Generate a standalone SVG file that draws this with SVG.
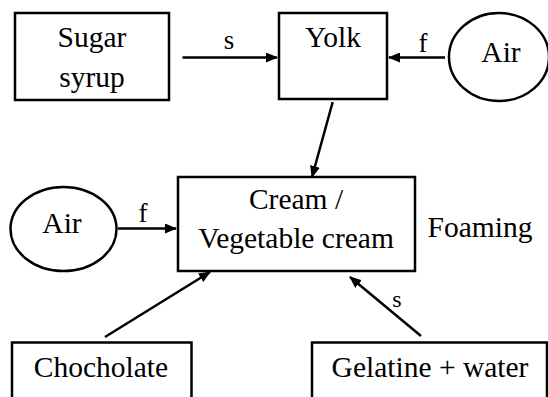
<svg xmlns="http://www.w3.org/2000/svg" width="548" height="397" viewBox="0 0 548 397" font-family="'Liberation Serif', 'DejaVu Serif', serif">
<style>
.box{fill:#fff;stroke:#000;stroke-width:2.5}
.t{font-family:'Liberation Serif','DejaVu Serif',serif;font-size:29.5px;fill:#000;text-anchor:middle}
.l{font-family:'Liberation Serif','DejaVu Serif',serif;font-size:27px;fill:#000;text-anchor:middle}
.c{stroke:#000;stroke-width:2.5;fill:none;marker-end:url(#ah)}
</style>
<defs>
<marker id="ah" viewBox="0 0 12 10" refX="11" refY="5" markerWidth="12" markerHeight="10" markerUnits="userSpaceOnUse" orient="auto">
<path d="M0,0 L12,5 L0,10 Z" fill="#000"/>
</marker>
</defs>
<rect width="548" height="397" fill="#fff"/>
<g id="connectors">
<line class="c" x1="182.5" y1="57.5" x2="277" y2="57.5"/>
<text class="l" x="229" y="49">s</text>
<line class="c" x1="445" y1="57.5" x2="389" y2="57.5"/>
<text class="l" x="423" y="52">f</text>
<line class="c" x1="332.7" y1="102" x2="312" y2="177"/>
<line class="c" x1="118" y1="228.5" x2="176" y2="228.5"/>
<text class="l" x="143" y="222">f</text>
<line class="c" x1="105" y1="337" x2="210" y2="272"/>
<line class="c" x1="421" y1="336" x2="350" y2="277"/>
<text class="l" x="397" y="307" style="font-size:24px">s</text>
</g>
<g id="sugar">
<rect class="box" x="15" y="13" width="154" height="87"/>
<text class="t" x="92" y="47">Sugar</text>
<text class="t" x="92" y="87">syrup</text>
</g>
<g id="yolk">
<rect class="box" x="279" y="13" width="108" height="86"/>
<text class="t" x="333" y="47">Yolk</text>
</g>
<g id="air-top">
<ellipse class="box" cx="499" cy="57" rx="50" ry="44"/>
<text class="t" x="501" y="62">Air</text>
</g>
<g id="cream">
<rect class="box" x="178" y="177" width="237" height="94"/>
<text class="t" x="296" y="209">Cream /</text>
<text class="t" x="296" y="248">Vegetable cream</text>
</g>
<g id="air-left">
<ellipse class="box" cx="63.5" cy="229" rx="53" ry="42"/>
<text class="t" x="62" y="233">Air</text>
</g>
<g id="foaming">
<text class="t" x="480" y="237">Foaming</text>
</g>
<g id="chocholate">
<rect class="box" x="12" y="342.5" width="179.5" height="60"/>
<text class="t" x="101" y="377">Chocholate</text>
</g>
<g id="gelatine">
<rect class="box" x="312" y="342.5" width="235" height="60"/>
<text class="t" x="430" y="377">Gelatine + water</text>
</g>
</svg>
